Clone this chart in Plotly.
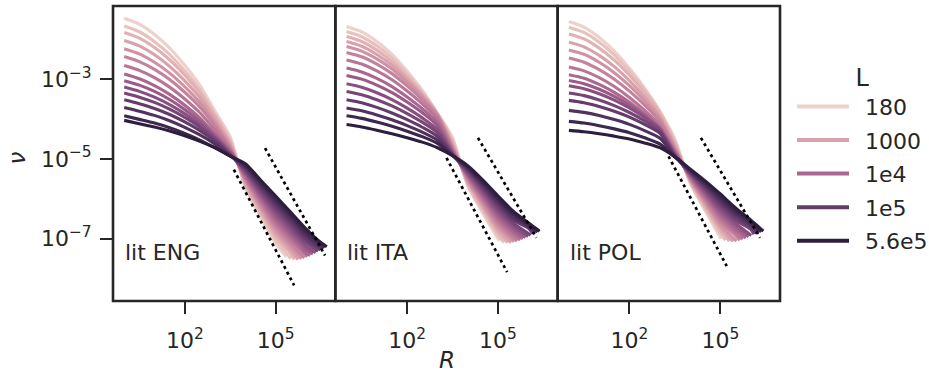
import numpy as np
import plotly.graph_objects as go

# ---------------- data (log10 units) ----------------
PANELS = ["lit ENG", "lit ITA", "lit POL"]
L_VALUES = [180, 320, 560, 1000, 1800, 3200, 5600, 1e4, 1.8e4, 3.2e4, 5.6e4, 1e5, 1.8e5, 3.2e5, 5.6e5]
LEGEND_L = [180, 1000, 1e4, 1e5, 5.6e5]
LEGEND_TEXT = ["180", "1000", "1e4", "1e5", "5.6e5"]

# log10(R) knots shared by all curves; each curve lists log10(nu) at the first knots, then its end point
LOG_R_GRID = [0, 0.5, 1, 1.5, 2, 2.5, 3, 3.5, 4, 4.5, 5, 5.5, 6, 6.5]

ENG_LOG_NU = [
    [-1.475, -1.625, -1.885, -2.225, -2.655, -3.155, -3.805, -4.45, -5.72, -6.45, -7.12],
    [-1.67, -1.815, -2.063, -2.385, -2.793, -3.268, -3.883, -4.516, -5.677, -6.384, -7.035],
    [-1.835, -1.976, -2.21, -2.516, -2.901, -3.35, -3.93, -4.577, -5.634, -6.319, -6.95, -7.377],
    [-2.035, -2.171, -2.393, -2.681, -3.045, -3.468, -4.013, -4.634, -5.591, -6.253, -6.865, -7.291],
    [-2.24, -2.371, -2.58, -2.851, -3.193, -3.59, -4.1, -4.685, -5.549, -6.187, -6.78, -7.204],
    [-2.435, -2.562, -2.758, -3.012, -3.331, -3.703, -4.178, -4.732, -5.506, -6.121, -6.695, -7.118],
    [-2.66, -2.782, -2.965, -3.202, -3.499, -3.845, -4.285, -4.773, -5.463, -6.056, -6.61, -7.031],
    [-2.875, -2.993, -3.163, -3.383, -3.658, -3.978, -4.383, -4.81, -5.42, -5.99, -6.525, -6.945, -7.35],
    [-3.04, -3.153, -3.31, -3.513, -3.766, -4.06, -4.43, -4.842, -5.377, -5.924, -6.44, -6.859, -7.264],
    [-3.2, -3.308, -3.453, -3.638, -3.869, -4.138, -4.473, -4.869, -5.334, -5.859, -6.355, -6.772, -7.179],
    [-3.35, -3.454, -3.585, -3.754, -3.962, -4.205, -4.505, -4.891, -5.291, -5.793, -6.27, -6.686, -7.093],
    [-3.52, -3.619, -3.738, -3.889, -4.075, -4.293, -4.558, -4.908, -5.249, -5.727, -6.185, -6.599, -7.007],
    [-3.71, -3.804, -3.91, -4.044, -4.209, -4.4, -4.63, -4.92, -5.206, -5.661, -6.1, -6.513, -6.921, -7.22],
    [-3.92, -4.01, -4.103, -4.22, -4.362, -4.528, -4.723, -4.928, -5.163, -5.596, -6.015, -6.426, -6.836, -7.15],
    [-4.035, -4.12, -4.2, -4.3, -4.42, -4.56, -4.72, -4.93, -5.12, -5.53, -5.93, -6.34, -6.75, -7.1],
]
ENG_END_LOG_R = [5.35, 5.5, 5.62, 5.74, 5.85, 5.95, 6.05, 6.14, 6.23, 6.32, 6.4, 6.48, 6.55, 6.62, 6.69]
ENG_END_LOG_NU = [-7.45, -7.5, -7.52, -7.52, -7.5, -7.48, -7.45, -7.42, -7.38, -7.35, -7.31, -7.28, -7.25, -7.22, -7.2]

ITA_LOG_NU = [
    [-1.685, -1.82, -2.06, -2.38, -2.8, -3.28, -3.85, -4.47, -5.68, -6.36, -7.0],
    [-1.81, -1.94, -2.168, -2.472, -2.869, -3.323, -3.862, -4.532, -5.644, -6.301, -6.924],
    [-1.935, -2.059, -2.276, -2.564, -2.938, -3.365, -3.874, -4.589, -5.607, -6.241, -6.847],
    [-2.06, -2.179, -2.385, -2.655, -3.007, -3.408, -3.885, -4.642, -5.571, -6.182, -6.771],
    [-2.185, -2.299, -2.493, -2.747, -3.076, -3.45, -3.897, -4.69, -5.534, -6.123, -6.694, -7.053],
    [-2.335, -2.443, -2.626, -2.864, -3.17, -3.518, -3.934, -4.734, -5.498, -6.064, -6.618, -6.979],
    [-2.52, -2.623, -2.794, -3.016, -3.299, -3.62, -4.006, -4.773, -5.461, -6.004, -6.541, -6.904],
    [-2.725, -2.823, -2.983, -3.188, -3.448, -3.743, -4.098, -4.808, -5.425, -5.945, -6.465, -6.83],
    [-2.91, -3.002, -3.151, -3.339, -3.576, -3.845, -4.169, -4.837, -5.389, -5.886, -6.389, -6.756],
    [-3.12, -3.207, -3.344, -3.516, -3.73, -3.973, -4.266, -4.863, -5.352, -5.826, -6.312, -6.681],
    [-3.31, -3.391, -3.517, -3.673, -3.864, -4.08, -4.343, -4.883, -5.316, -5.767, -6.236, -6.607],
    [-3.52, -3.596, -3.71, -3.85, -4.018, -4.208, -4.44, -4.899, -5.279, -5.708, -6.159, -6.533, -6.734],
    [-3.725, -3.796, -3.899, -4.021, -4.167, -4.33, -4.531, -4.911, -5.243, -5.649, -6.083, -6.459, -6.689],
    [-3.92, -3.985, -4.077, -4.183, -4.306, -4.443, -4.613, -4.918, -5.206, -5.589, -6.006, -6.384, -6.645],
    [-4.14, -4.2, -4.28, -4.37, -4.47, -4.58, -4.72, -4.92, -5.17, -5.53, -5.93, -6.31, -6.6],
]
ITA_END_LOG_R = [5.05, 5.2, 5.32, 5.43, 5.53, 5.63, 5.73, 5.82, 5.91, 6.0, 6.08, 6.16, 6.24, 6.31, 6.375]
ITA_END_LOG_NU = [-7.05, -7.09, -7.1, -7.1, -7.08, -7.06, -7.03, -7.0, -6.97, -6.94, -6.91, -6.88, -6.85, -6.83, -6.81]

POL_LOG_NU = [
    [-1.56, -1.7, -1.96, -2.3, -2.73, -3.22, -3.8, -4.5, -5.6, -6.3],
    [-1.7, -1.833, -2.078, -2.398, -2.802, -3.264, -3.811, -4.562, -5.575, -6.246, -6.874],
    [-1.87, -1.995, -2.225, -2.525, -2.904, -3.338, -3.852, -4.619, -5.55, -6.193, -6.797],
    [-2.075, -2.193, -2.408, -2.688, -3.04, -3.447, -3.928, -4.672, -5.525, -6.139, -6.721],
    [-2.27, -2.38, -2.58, -2.84, -3.167, -3.546, -3.994, -4.72, -5.5, -6.086, -6.644],
    [-2.475, -2.578, -2.763, -3.003, -3.304, -3.655, -4.07, -4.764, -5.475, -6.032, -6.568, -6.918],
    [-2.7, -2.795, -2.965, -3.185, -3.461, -3.784, -4.166, -4.803, -5.45, -5.979, -6.491, -6.841],
    [-2.89, -2.978, -3.133, -3.333, -3.583, -3.878, -4.228, -4.838, -5.425, -5.925, -6.415, -6.765],
    [-3.035, -3.115, -3.255, -3.435, -3.659, -3.926, -4.244, -4.867, -5.4, -5.871, -6.339, -6.689],
    [-3.17, -3.243, -3.368, -3.528, -3.726, -3.965, -4.25, -4.893, -5.375, -5.818, -6.262, -6.612],
    [-3.35, -3.415, -3.525, -3.665, -3.838, -4.049, -4.301, -4.913, -5.35, -5.764, -6.186, -6.536, -6.759],
    [-3.535, -3.593, -3.688, -3.808, -3.955, -4.138, -4.357, -4.929, -5.325, -5.711, -6.109, -6.459, -6.701],
    [-3.785, -3.835, -3.915, -4.015, -4.136, -4.292, -4.478, -4.941, -5.3, -5.657, -6.033, -6.383, -6.644],
    [-4.06, -4.103, -4.168, -4.248, -4.343, -4.471, -4.624, -4.948, -5.275, -5.604, -5.956, -6.306, -6.587],
    [-4.285, -4.32, -4.37, -4.43, -4.5, -4.6, -4.72, -4.95, -5.25, -5.55, -5.88, -6.23, -6.53],
]
POL_END_LOG_R = [5.02, 5.17, 5.3, 5.42, 5.53, 5.64, 5.74, 5.84, 5.93, 6.02, 6.11, 6.19, 6.27, 6.35, 6.42]
POL_END_LOG_NU = [-7.0, -7.04, -7.06, -7.07, -7.06, -7.04, -7.01, -6.98, -6.95, -6.92, -6.89, -6.87, -6.85, -6.83, -6.81]

# dotted guide lines: (log10 R, log10 nu) start and end
ENG_GUIDES = [[(4.65, -4.73), (6.63, -7.42)], [(3.62, -5.27), (5.61, -8.17)]]
ITA_GUIDES = [[(4.34, -4.475), (6.27, -6.975)], [(3.30, -4.975), (5.30, -7.835)]]
POL_GUIDES = [[(4.36, -4.475), (6.31, -6.975)], [(3.29, -4.935), (5.21, -7.685)]]

X_TICKS = [1e2, 1e5]
X_TICK_TEXT = ["10<sup>2</sup>", "10<sup>5</sup>"]
Y_TICKS = [1e-3, 1e-5, 1e-7]
Y_TICK_TEXT = ["10<sup>\u22123</sup>", "10<sup>\u22125</sup>", "10<sup>\u22127</sup>"]

PANEL_DATA = [
    (ENG_LOG_NU, ENG_END_LOG_R, ENG_END_LOG_NU, ENG_GUIDES),
    (ITA_LOG_NU, ITA_END_LOG_R, ITA_END_LOG_NU, ITA_GUIDES),
    (POL_LOG_NU, POL_END_LOG_R, POL_END_LOG_NU, POL_GUIDES),
]

# ---------------- styling ----------------
FONT = "DejaVu Sans"
INK = "#262626"
LOG_L_MIN, LOG_L_MAX = np.log10(180), np.log10(5.6e5)


def cubehelix(t):
    """seaborn default cubehelix_palette(as_cmap=True): light -> dark"""
    x = 0.85 + (0.15 - 0.85) * t
    a = 0.8 * x * (1 - x) / 2
    phi = 2 * np.pi * (0.4 * x)
    c, s = np.cos(phi), np.sin(phi)
    r = x + a * (-0.14861 * c + 1.78277 * s)
    g = x + a * (-0.29227 * c - 0.90649 * s)
    b = x + a * (1.97294 * c)
    rgb = [int(round(255 * min(max(v, 0), 1))) for v in (r, g, b)]
    return "rgb(%d,%d,%d)" % tuple(rgb)


def color_for(L):
    return cubehelix((np.log10(L) - LOG_L_MIN) / (LOG_L_MAX - LOG_L_MIN))


def ax_names(p):
    return ("x", "y") if p == 0 else ("x%d" % (p + 1), "y%d" % (p + 1))


fig = go.Figure()
for p, (rows, end_r, end_nu, guides) in enumerate(PANEL_DATA):
    xa, ya = ax_names(p)
    for i, L in enumerate(L_VALUES):
        lr = LOG_R_GRID[: len(rows[i])] + [end_r[i]]
        ln = rows[i] + [end_nu[i]]
        fig.add_trace(go.Scatter(
            x=[10 ** v for v in lr], y=[10 ** v for v in ln], mode="lines",
            line=dict(color=color_for(L), width=3.1, shape="spline", smoothing=0.7),
            xaxis=xa, yaxis=ya, showlegend=False, hoverinfo="skip"))
    for (a, b) in guides:
        fig.add_trace(go.Scatter(
            x=[10 ** a[0], 10 ** b[0]], y=[10 ** a[1], 10 ** b[1]], mode="lines",
            line=dict(color="black", width=2.7, dash="3px,3.4px"),
            xaxis=xa, yaxis=ya, showlegend=False, hoverinfo="skip"))

for L, txt in zip(LEGEND_L, LEGEND_TEXT):
    fig.add_trace(go.Scatter(x=[None], y=[None], mode="lines", name="\u2002" + txt,
                             line=dict(color=color_for(L), width=4),
                             legendgroup=txt, xaxis="x", yaxis="y"))

axis_common = dict(type="log", showline=False, showgrid=False, zeroline=False, automargin=False,
                   ticks="outside", ticklen=12, tickwidth=2.4, tickcolor=INK,
                   tickfont=dict(family=FONT, size=22, color=INK))
domains = [[0, 1 / 3], [1 / 3, 2 / 3], [2 / 3, 1]]
layout = dict(
    width=929, height=374, margin=dict(l=113, r=149, t=6, b=73, autoexpand=False),
    paper_bgcolor="white", plot_bgcolor="white",
    font=dict(family=FONT, size=22, color=INK),
    legend=dict(x=1.018, y=0.836, xanchor="left", yanchor="top", itemwidth=52,
                font=dict(family=FONT, size=22, color=INK), tracegroupgap=2,
                title=dict(text="L", font=dict(family=FONT, size=24, color=INK), side="top center"),
                bgcolor="rgba(0,0,0,0)"),
)
for p in range(3):
    xa, ya = ax_names(p)
    xk = "xaxis" if p == 0 else "xaxis%d" % (p + 1)
    yk = "yaxis" if p == 0 else "yaxis%d" % (p + 1)
    layout[xk] = dict(axis_common, domain=domains[p], anchor=ya, range=[-0.37, 6.97],
                      tickvals=X_TICKS, ticktext=X_TICK_TEXT, ticklabelstandoff=8)
    ydict = dict(axis_common, domain=[0, 1], anchor=xa, range=[-8.56, -1.17],
                 tickvals=Y_TICKS, ticktext=Y_TICK_TEXT, ticklabelstandoff=4)
    if p > 0:
        ydict.update(showticklabels=False, ticks="", matches="y")
    layout[yk] = ydict
fig.update_layout(**layout)

for p, name in enumerate(PANELS):
    xa, ya = ax_names(p)
    fig.add_shape(type="rect", xref=xa + " domain", yref=ya + " domain", x0=0, x1=1, y0=0, y1=1,
                  line=dict(color=INK, width=2.6), fillcolor="rgba(0,0,0,0)", layer="above")
    fig.add_annotation(text=name, xref=xa + " domain", yref=ya + " domain", x=0.045, y=0.163,
                       xanchor="left", yanchor="middle", showarrow=False,
                       font=dict(family=FONT, size=22, color=INK))

fig.add_annotation(text="<i>R</i>", xref="paper", yref="paper", x=0.5, y=-0.2,
                   xanchor="center", yanchor="middle", showarrow=False,
                   font=dict(family=FONT, size=23, color=INK))
fig.add_annotation(text="<i>\u03bd</i>", xref="paper", yref="paper", x=-0.1444, y=0.485,
                   xanchor="center", yanchor="middle", showarrow=False, textangle=-90,
                   font=dict(family=FONT, size=23, color=INK))

fig.write_html("out.html", config={"displayModeBar": False},
               post_script="document.body.style.margin='0px';")
